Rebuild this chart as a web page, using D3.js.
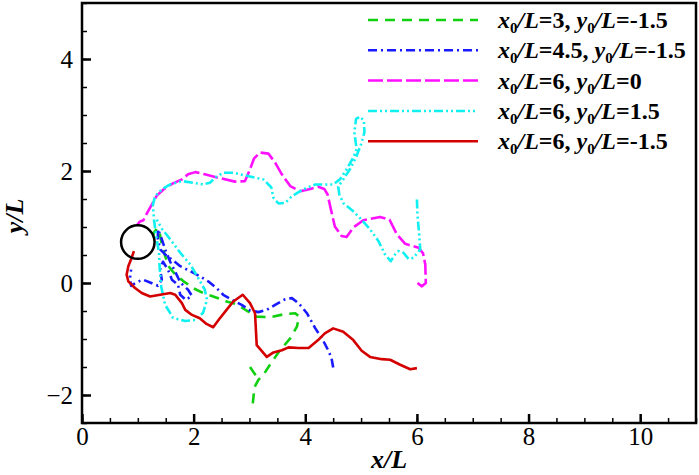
<!DOCTYPE html>
<html>
<head>
<meta charset="utf-8">
<script src="https://d3js.org/d3.v7.min.js"></script>
<style>
  body { margin: 0; background: #fff; }
  text { font-family: "Liberation Serif", "Times New Roman", serif; }
</style>
</head>
<body>
<svg id="chart"></svg>
<script>
// trajectories, [x/L, y/L]; null = break in the curve
var trackGreen = [[3.01,-1.50],[3.12,-1.66],null,
  [3.06,-2.15],[3.09,-1.86],[3.16,-1.73],[3.25,-1.64],[3.40,-1.41],[3.55,-1.20],[3.73,-0.99],
  [3.85,-0.78],[3.89,-0.60],[3.82,-0.54],[3.61,-0.56],[3.37,-0.61],[3.13,-0.60],[2.98,-0.51],[2.83,-0.42],
  [2.71,-0.36],[2.59,-0.33],[2.35,-0.24],[2.17,-0.18],[1.99,-0.09],[1.82,0.03],[1.67,0.15],[1.55,0.30],
  [1.49,0.48],[1.43,0.69],[1.39,0.90],[1.35,0.98],[1.29,0.90],[1.27,0.83]];
var trackBlue = [[4.50,-1.51],[4.47,-1.34],[4.41,-1.20],[4.30,-0.99],[4.18,-0.81],[4.03,-0.54],[3.88,-0.36],
  [3.76,-0.27],[3.64,-0.29],[3.46,-0.39],[3.31,-0.48],[3.16,-0.52],[3.01,-0.49],[2.86,-0.39],[2.74,-0.33],
  [2.53,-0.21],[2.41,-0.09],[2.26,0.03],[2.11,0.12],[1.94,0.21],[1.76,0.30],[1.61,0.42],[1.49,0.51],
  [1.40,0.60],[1.36,0.78],[1.36,0.96],[1.42,0.81],[1.49,0.60],[1.58,0.38],[1.67,0.20],[1.76,0.01],
  [1.90,-0.12],[1.97,-0.23],[1.86,-0.30],[1.76,-0.21],[1.72,-0.03],[1.61,0.06],[1.54,0.24],[1.45,0.38],
  [1.40,0.24],[1.43,0.06],[1.36,-0.05],[1.22,0.01],[1.09,0.06],[0.97,0.01],[0.88,-0.05],[0.86,0.09],[0.88,0.24]];
var trackMagenta = [[6.01,0.00],[6.09,-0.06],[6.16,0.00],[6.15,0.33],[6.11,0.53],[6.03,0.63],[5.79,0.70],
  [5.64,0.87],[5.51,1.13],[5.34,1.18],[5.04,1.12],[4.86,0.99],[4.74,0.82],[4.65,0.84],[4.53,1.01],
  [4.46,1.31],[4.40,1.58],[4.34,1.68],[4.23,1.72],[4.09,1.68],[3.91,1.64],[3.73,1.73],[3.58,1.94],
  [3.46,2.15],[3.34,2.31],[3.19,2.33],[3.08,2.22],[3.01,2.03],[2.92,1.82],[2.74,1.81],[2.44,1.88],
  [2.20,1.94],[2.03,1.98],[1.90,1.94],[1.79,1.85],[1.63,1.78],[1.46,1.67],[1.34,1.56],[1.25,1.40],
  [1.16,1.24],[1.10,1.12],[1.04,1.10],[0.99,1.04]];
var trackCyan = [[6.00,1.49],[6.01,1.22],[6.04,0.87],[6.06,0.60],[5.94,0.45],[5.85,0.43],[5.76,0.54],
  [5.67,0.57],[5.61,0.51],[5.53,0.39],[5.43,0.51],[5.31,0.75],[5.16,0.96],[5.01,1.13],[4.86,1.28],
  [4.68,1.43],[4.61,1.58],[4.59,1.72],[4.68,1.85],[4.80,2.03],[4.92,2.27],[5.00,2.48],[5.06,2.69],
  [5.05,2.90],[4.98,2.97],[4.91,2.93],[4.88,2.69],[4.92,2.39],[4.86,2.24],[4.74,2.03],[4.62,1.85],
  [4.50,1.76],[4.35,1.76],[4.18,1.76],[4.03,1.70],[3.91,1.64],[3.76,1.55],[3.64,1.43],[3.52,1.42],
  [3.43,1.52],[3.39,1.71],[3.25,1.85],[3.01,1.90],[2.71,1.97],[2.53,1.97],[2.41,1.90],[2.29,1.79],
  [2.17,1.76],[1.99,1.79],[1.79,1.82],[1.58,1.76],[1.43,1.67],[1.31,1.55],[1.27,1.40],[1.29,1.13],
  [1.33,0.83],[1.38,0.54],[1.39,0.29],[1.42,-0.07],[1.49,-0.39],[1.63,-0.62],[1.85,-0.68],[2.03,-0.66],
  [2.17,-0.53],[2.24,-0.30],[2.20,-0.12],[2.11,0.04],[1.94,0.33],[1.76,0.54],[1.58,0.78],[1.43,0.97],[1.34,1.13]];
var trackRed = [[6.00,-1.52],[5.88,-1.54],[5.70,-1.46],[5.52,-1.37],[5.37,-1.36],[5.16,-1.32],[5.01,-1.21],
  [4.86,-1.02],[4.68,-0.87],[4.50,-0.81],[4.35,-0.90],[4.23,-1.02],[4.06,-1.16],[3.88,-1.16],[3.70,-1.15],
  [3.58,-1.20],[3.43,-1.24],[3.31,-1.32],[3.13,-1.11],[3.10,-0.54],[3.01,-0.36],[2.88,-0.21],[2.71,-0.33],
  [2.59,-0.48],[2.47,-0.63],[2.35,-0.79],[2.23,-0.73],[2.11,-0.63],[1.97,-0.57],[1.85,-0.48],[1.79,-0.36],
  [1.67,-0.21],[1.58,-0.18],[1.40,-0.21],[1.22,-0.24],[1.07,-0.18],[0.95,-0.09],[0.83,0.03],[0.80,0.15],
  [0.83,0.30],[0.89,0.45],[0.93,0.57]];

var seriesTracks = [trackGreen, trackBlue, trackMagenta, trackCyan, trackRed];
var seriesNames = [["3","-1.5"],["4.5","-1.5"],["6","0"],["6","1.5"],["6","-1.5"]];
var seriesColors = ["#10d010","#1a1aff","#ff10ff","#10f0f0","#d40000"];
var seriesDash = ["10,7","9,4,2,4","15,4","9,3,2,3,2,3",null];

var xTicks = [0,2,4,6,8,10];
var yTicks = [-2,0,2,4];
var circleCenter = [1.0, 0.73], circleRadius = 0.3;

var W = 699, H = 475;
var svg = d3.select("#chart").attr("width", W).attr("height", H);

var x = d3.scaleLinear().domain([0,11]).range([82,696]);
var y = d3.scaleLinear().domain([-2.5,5]).range([423,3]);

// minor ticks
svg.append("g").attr("transform","translate(0,423)")
   .call(d3.axisBottom(x).tickValues(d3.range(0,11.01,0.5)).tickSize(-5).tickFormat(""))
   .call(function(g){ g.select(".domain").remove(); g.selectAll("line").attr("stroke-width",1.5); });
svg.append("g").attr("transform","translate(82,0)")
   .call(d3.axisLeft(y).tickValues(d3.range(-2.5,5.01,0.5)).tickSize(-5).tickFormat(""))
   .call(function(g){ g.select(".domain").remove(); g.selectAll("line").attr("stroke-width",1.5); });

// major ticks + labels
var xa = svg.append("g").attr("transform","translate(0,423)")
   .call(d3.axisBottom(x).tickValues(xTicks).tickSize(-9).tickPadding(4).tickFormat(d3.format("d")));
var ya = svg.append("g").attr("transform","translate(82,0)")
   .call(d3.axisLeft(y).tickValues(yTicks).tickSize(-9).tickPadding(9).tickFormat(d3.format("d")));
[xa, ya].forEach(function(g){
  g.select(".domain").remove();
  g.selectAll("line").attr("stroke-width",2.5);
  g.selectAll("text").attr("font-size",25).attr("font-family","Liberation Serif").attr("fill","#000");
});

// frame
svg.append("rect").attr("x",82).attr("y",3).attr("width",614).attr("height",420)
   .attr("fill","none").attr("stroke","#000").attr("stroke-width",2.5);

// trajectories
var line = d3.line().defined(function(d){ return d != null; })
   .x(function(d){ return x(d[0]); }).y(function(d){ return y(d[1]); });
seriesTracks.forEach(function(t, i){
  svg.append("path").datum(t).attr("d", line)
     .attr("fill","none").attr("stroke", seriesColors[i]).attr("stroke-width",2.6)
     .attr("stroke-linejoin","round")
     .attr("stroke-dasharray", seriesDash[i]);
});

// obstacle
svg.append("circle").attr("cx", x(circleCenter[0])).attr("cy", y(circleCenter[1]))
   .attr("r", x(circleRadius) - x(0)).attr("fill","none").attr("stroke","#000").attr("stroke-width",2.5);

// legend
var leg = svg.append("g");
seriesNames.forEach(function(n, i){
  var cy = 20 + i*30.3;
  leg.append("line").attr("x1",368).attr("x2",478).attr("y1",cy).attr("y2",cy)
     .attr("stroke",seriesColors[i]).attr("stroke-width",2.5).attr("stroke-dasharray",seriesDash[i]);
  var t = leg.append("text").attr("x",498).attr("y",cy+8).attr("font-size",24).attr("font-weight","bold");
  t.append("tspan").attr("font-style","italic").text("x");
  t.append("tspan").attr("font-size",15).attr("dy",5).text("0");
  t.append("tspan").attr("font-style","italic").attr("dy",-5).text("/L");
  t.append("tspan").text("=" + n[0] + ", ");
  t.append("tspan").attr("font-style","italic").text("y");
  t.append("tspan").attr("font-size",15).attr("dy",5).text("0");
  t.append("tspan").attr("font-style","italic").attr("dy",-5).text("/L");
  t.append("tspan").text("=" + n[1]);
});

// axis titles
svg.append("text").attr("x",389).attr("y",468).attr("text-anchor","middle")
   .attr("font-size",26).attr("font-weight","bold").attr("font-style","italic").text("x/L");
svg.append("text").attr("transform","translate(23,216) rotate(-90)").attr("text-anchor","middle")
   .attr("font-size",26).attr("font-weight","bold").attr("font-style","italic").text("y/L");
</script>
</body>
</html>
